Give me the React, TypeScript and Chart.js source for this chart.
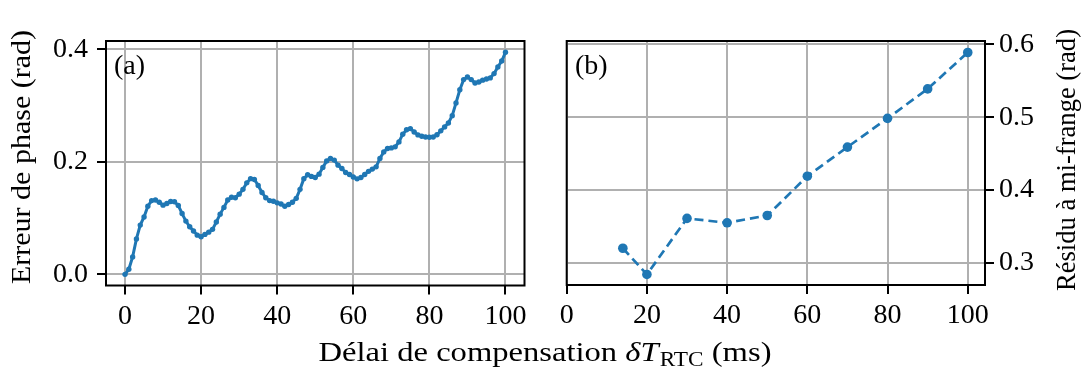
import React, { useEffect, useRef } from "react";
import { Chart, registerables } from "chart.js";

Chart.register(...registerables);

// ---------- data ----------
const delayMs = [
  0, 1, 2, 3, 4, 5, 6, 7, 8, 9, 10, 11, 12, 13, 14, 15, 16, 17, 18, 19, 20,
  21, 22, 23, 24, 25, 26, 27, 28, 29, 30, 31, 32, 33, 34, 35, 36, 37, 38, 39, 40,
  41, 42, 43, 44, 45, 46, 47, 48, 49, 50, 51, 52, 53, 54, 55, 56, 57, 58, 59, 60,
  61, 62, 63, 64, 65, 66, 67, 68, 69, 70, 71, 72, 73, 74, 75, 76, 77, 78, 79, 80,
  81, 82, 83, 84, 85, 86, 87, 88, 89, 90, 91, 92, 93, 94, 95, 96, 97, 98, 99, 100,
];
const phaseError = [
  0.0, 0.009, 0.031, 0.063, 0.0875, 0.102, 0.121, 0.131, 0.132, 0.128, 0.123,
  0.126, 0.1295, 0.129, 0.1224, 0.108, 0.0946, 0.0845, 0.077, 0.0697, 0.0667,
  0.071, 0.075, 0.08, 0.093, 0.107, 0.119, 0.132, 0.137, 0.136, 0.1425,
  0.151, 0.1626, 0.17, 0.1686, 0.158, 0.1455, 0.136, 0.131, 0.13, 0.127,
  0.125, 0.121, 0.124, 0.128, 0.135, 0.151, 0.17, 0.177, 0.174, 0.172,
  0.178, 0.19, 0.2016, 0.206, 0.203, 0.194, 0.188, 0.181, 0.1775, 0.173,
  0.1697, 0.172, 0.1775, 0.183, 0.187, 0.191, 0.206, 0.2176, 0.2236, 0.2247,
  0.2265, 0.2353, 0.249, 0.257, 0.259, 0.253, 0.2478, 0.2455, 0.244, 0.2437,
  0.244, 0.248, 0.255, 0.262, 0.269, 0.282, 0.3046, 0.328, 0.346, 0.3507,
  0.346, 0.34, 0.3418, 0.345, 0.347, 0.349, 0.3567, 0.3685, 0.379, 0.3945,
];
const residueDelayMs = [14, 20, 30, 40, 50, 60, 70, 80, 90, 100];
const residue = [0.32, 0.284, 0.361, 0.355, 0.365, 0.419, 0.459, 0.4985, 0.539, 0.589];

const xTickValues = [0, 20, 40, 60, 80, 100];
const leftYTickValues = [0.0, 0.2, 0.4];
const rightYTickValues = [0.3, 0.4, 0.5, 0.6];

const xLabelMain = "Délai de compensation ";
const xLabelSymbol = "δT";
const xLabelSub = "RTC";
const xLabelUnit = " (ms)";
const leftYLabel = "Erreur de phase (rad)";
const rightYLabel = "Résidu à mi-frange (rad)";

// ---------- style ----------
const W = 1086;
const H = 374;
const BLUE = "#1f77b4";
const FAMILY = "'Liberation Serif', 'Times New Roman', serif";
const FS = 28;
const GRID = "#b0b0b0";

const LEFT_AREA = { left: 106, right: 524.5, top: 41, bottom: 285.5 };
const RIGHT_AREA = { left: 566.7, right: 985, top: 41, bottom: 285 };

const fixedTicks = (vals: number[]) => (scale: any) => {
  scale.ticks = vals.map((v) => ({ value: v }));
};

const framePlugin = {
  id: "frame",
  afterDatasetsDraw(chart: any) {
    const { ctx, chartArea } = chart;
    ctx.save();
    ctx.strokeStyle = "#000";
    ctx.lineWidth = 2;
    ctx.strokeRect(
      chartArea.left,
      chartArea.top,
      chartArea.right - chartArea.left,
      chartArea.bottom - chartArea.top
    );
    ctx.restore();
  },
};

// draws a centered text stretched horizontally to a target length
function drawStretched(
  ctx: CanvasRenderingContext2D,
  text: string,
  cx: number,
  cy: number,
  rotate: boolean,
  target: number
) {
  ctx.save();
  ctx.font = `${FS}px ${FAMILY}`;
  const w = ctx.measureText(text).width;
  ctx.translate(cx, cy);
  if (rotate) ctx.rotate(-Math.PI / 2);
  ctx.scale(target / w, 1);
  ctx.textAlign = "center";
  ctx.textBaseline = "middle";
  ctx.fillText(text, 0, 0);
  ctx.restore();
}

const leftTextPlugin = {
  id: "leftText",
  afterDraw(chart: any) {
    const ctx = chart.ctx as CanvasRenderingContext2D;
    ctx.save();
    ctx.fillStyle = "#000";
    // panel label
    ctx.font = `${FS}px ${FAMILY}`;
    ctx.textAlign = "left";
    ctx.textBaseline = "alphabetic";
    ctx.fillText("(a)", 114, 74);
    // y title
    drawStretched(ctx, leftYLabel, 23, 157, true, 254);
    // x title with subscript
    const mainFont = `${FS}px ${FAMILY}`;
    const italFont = `italic ${FS}px ${FAMILY}`;
    const subFont = `${Math.round(FS * 0.7)}px ${FAMILY}`;
    ctx.font = mainFont;
    const w1 = ctx.measureText(xLabelMain).width;
    const w4 = ctx.measureText(xLabelUnit).width;
    ctx.font = italFont;
    const w2 = ctx.measureText(xLabelSymbol).width;
    ctx.font = subFont;
    const w3 = ctx.measureText(xLabelSub).width;
    const total = w1 + w2 + w3 + w4 + 1;
    const target = 453;
    const sx = target / total;
    const base = 361;
    ctx.translate(545 - target / 2, base);
    ctx.scale(sx, 1);
    let x = 0;
    ctx.textAlign = "left";
    ctx.textBaseline = "alphabetic";
    ctx.font = mainFont;
    ctx.fillText(xLabelMain, x, 0);
    x += w1;
    ctx.font = italFont;
    ctx.fillText(xLabelSymbol, x, 0);
    x += w2 + 1;
    ctx.font = subFont;
    ctx.fillText(xLabelSub, x, 5);
    x += w3;
    ctx.font = mainFont;
    ctx.fillText(xLabelUnit, x, 0);
    ctx.restore();
  },
};

const rightTextPlugin = {
  id: "rightText",
  afterDraw(chart: any) {
    const ctx = chart.ctx as CanvasRenderingContext2D;
    ctx.save();
    ctx.fillStyle = "#000";
    ctx.font = `${FS}px ${FAMILY}`;
    ctx.textAlign = "left";
    ctx.textBaseline = "alphabetic";
    ctx.fillText("(b)", 575, 74);
    drawStretched(ctx, rightYLabel, 1068, 160, true, 262);
    ctx.restore();
  },
};

const tickFont = { family: FAMILY, size: FS };

function axisX(min: number, max: number, height: number) {
  return {
    type: "linear" as const,
    min,
    max,
    afterBuildTicks: fixedTicks(xTickValues),
    afterFit: (s: any) => {
      s.height = height;
    },
    grid: {
      color: GRID,
      lineWidth: 2,
      tickColor: "#000",
      tickWidth: 2,
      tickLength: 9,
    },
    border: { display: false },
    ticks: {
      color: "#000",
      font: tickFont,
      padding: 5,
      maxRotation: 0,
      autoSkip: false,
      callback: (v: any) => String(Math.round(Number(v))),
    },
  };
}

function axisY(
  min: number,
  max: number,
  vals: number[],
  position: "left" | "right",
  width: number,
  padding: number
) {
  return {
    type: "linear" as const,
    position,
    min,
    max,
    afterBuildTicks: fixedTicks(vals),
    afterFit: (s: any) => {
      s.width = width;
    },
    grid: {
      color: GRID,
      lineWidth: 2,
      tickColor: "#000",
      tickWidth: 2,
      tickLength: 9,
    },
    border: { display: false },
    ticks: {
      color: "#000",
      font: tickFont,
      padding,
      autoSkip: false,
      callback: (v: any) => Number(v).toFixed(1),
    },
  };
}

export default function App() {
  const leftRef = useRef<HTMLCanvasElement>(null);
  const rightRef = useRef<HTMLCanvasElement>(null);

  useEffect(() => {
    if (!leftRef.current || !rightRef.current) return;

    const left = new Chart(leftRef.current, {
      type: "line",
      data: {
        datasets: [
          {
            data: delayMs.map((x, i) => ({ x, y: phaseError[i] })),
            borderColor: BLUE,
            backgroundColor: BLUE,
            borderWidth: 3,
            pointRadius: 2.7,
            pointBorderWidth: 0,
            pointBackgroundColor: BLUE,
            tension: 0,
          },
        ],
      },
      options: {
        responsive: false,
        animation: false,
        devicePixelRatio: 1,
        layout: {
          padding: {
            left: 0,
            top: LEFT_AREA.top,
            right: W - LEFT_AREA.right,
            bottom: 0,
          },
        },
        plugins: { legend: { display: false }, tooltip: { enabled: false } },
        scales: {
          x: axisX(-5, 105, H - LEFT_AREA.bottom),
          y: axisY(-0.0198, 0.4146, leftYTickValues, "left", LEFT_AREA.left, 9),
        },
      },
      plugins: [framePlugin, leftTextPlugin],
    });

    const right = new Chart(rightRef.current, {
      type: "line",
      data: {
        datasets: [
          {
            data: residueDelayMs.map((x, i) => ({ x, y: residue[i] })),
            borderColor: BLUE,
            backgroundColor: BLUE,
            borderWidth: 2.7,
            borderDash: [9, 5],
            pointRadius: 4.8,
            pointBorderWidth: 0,
            pointBackgroundColor: BLUE,
            tension: 0,
          },
        ],
      },
      options: {
        responsive: false,
        animation: false,
        devicePixelRatio: 1,
        layout: {
          padding: {
            left: RIGHT_AREA.left,
            top: RIGHT_AREA.top,
            right: 0,
            bottom: 0,
          },
        },
        plugins: { legend: { display: false }, tooltip: { enabled: false } },
        scales: {
          x: axisX(0, 104.3, H - RIGHT_AREA.bottom),
          y: axisY(0.2695, 0.6048, rightYTickValues, "right", W - RIGHT_AREA.right, 5),
        },
      },
      plugins: [framePlugin, rightTextPlugin],
    });

    return () => {
      left.destroy();
      right.destroy();
    };
  }, []);

  const canvasStyle: React.CSSProperties = {
    position: "absolute",
    left: 0,
    top: 0,
    width: W,
    height: H,
  };

  return (
    <div
      style={{
        position: "fixed",
        left: 0,
        top: 0,
        width: W,
        height: H,
        background: "#fff",
      }}
    >
      <canvas ref={leftRef} width={W} height={H} style={canvasStyle} />
      <canvas ref={rightRef} width={W} height={H} style={canvasStyle} />
    </div>
  );
}
